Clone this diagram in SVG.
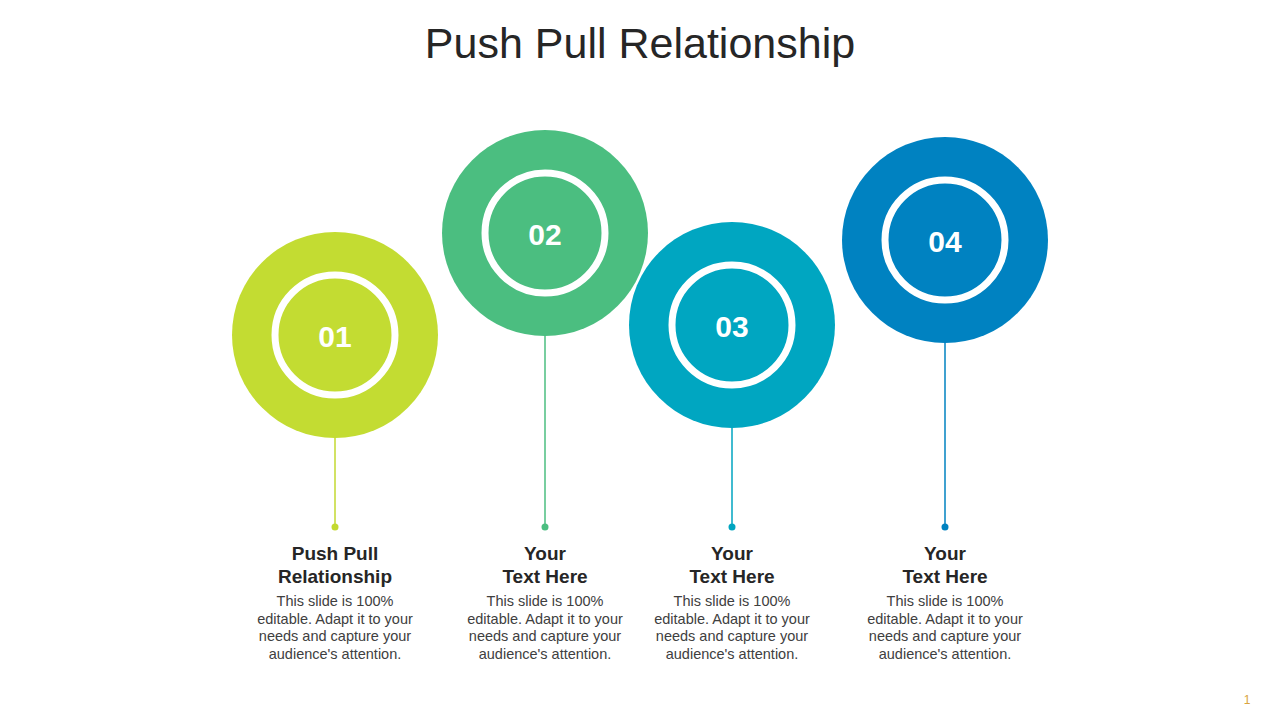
<svg xmlns="http://www.w3.org/2000/svg" width="1280" height="720" viewBox="0 0 1280 720">
<style>
.title{font-family:"Liberation Sans",Arial,sans-serif;font-size:43px;fill:#262626;text-anchor:middle}
.num{font-family:"Liberation Sans",Arial,sans-serif;font-size:30px;font-weight:bold;fill:#fff;text-anchor:middle}
.ring{fill:none;stroke:#fff;stroke-width:7}
.head{font-family:"Liberation Sans",Arial,sans-serif;font-size:19px;font-weight:bold;fill:#262626;text-anchor:middle}
.body{font-family:"Liberation Sans",Arial,sans-serif;font-size:14.5px;fill:#404040;text-anchor:middle}
.pg{font-family:"Liberation Sans",Arial,sans-serif;font-size:12px;fill:#d9a441;text-anchor:middle}
</style>
<rect width="1280" height="720" fill="#fff"/>
<text class="title" x="640" y="58">Push Pull Relationship</text>
<g id="connectors">
<line x1="335" y1="438" x2="335" y2="527" stroke="#c3d930" stroke-width="1.5"/>
<circle cx="335" cy="527" r="3.5" fill="#c3d930"/>
<line x1="545" y1="336" x2="545" y2="527" stroke="#4bbe80" stroke-width="1.5"/>
<circle cx="545" cy="527" r="3.5" fill="#4bbe80"/>
<line x1="732" y1="428" x2="732" y2="527" stroke="#00a5c0" stroke-width="1.5"/>
<circle cx="732" cy="527" r="3.5" fill="#00a5c0"/>
<line x1="945" y1="343" x2="945" y2="527" stroke="#0082c0" stroke-width="1.5"/>
<circle cx="945" cy="527" r="3.5" fill="#0082c0"/>
</g>
<g id="node1">
<circle cx="335" cy="335" r="103" fill="#c3dc32"/>
<circle class="ring" cx="335" cy="335" r="60"/>
<text class="num" x="335" y="347">01</text>
</g>
<g id="node2">
<circle cx="545" cy="233" r="103" fill="#4bbe80"/>
<circle class="ring" cx="545" cy="233" r="60"/>
<text class="num" x="545" y="245">02</text>
</g>
<g id="node3">
<circle cx="732" cy="325" r="103" fill="#00a6c1"/>
<circle class="ring" cx="732" cy="325" r="60"/>
<text class="num" x="732" y="337">03</text>
</g>
<g id="node4">
<circle cx="945" cy="240" r="103" fill="#0082c1"/>
<circle class="ring" cx="945" cy="240" r="60"/>
<text class="num" x="945" y="252">04</text>
</g>
<g id="label1">
<text class="head" x="335" y="560">Push Pull</text>
<text class="head" x="335" y="583">Relationship</text>
<text class="body" x="335" y="606">This slide is 100%</text>
<text class="body" x="335" y="624">editable. Adapt it to your</text>
<text class="body" x="335" y="641">needs and capture your</text>
<text class="body" x="335" y="659">audience's attention.</text>
</g>
<g id="label2">
<text class="head" x="545" y="560">Your</text>
<text class="head" x="545" y="583">Text Here</text>
<text class="body" x="545" y="606">This slide is 100%</text>
<text class="body" x="545" y="624">editable. Adapt it to your</text>
<text class="body" x="545" y="641">needs and capture your</text>
<text class="body" x="545" y="659">audience's attention.</text>
</g>
<g id="label3">
<text class="head" x="732" y="560">Your</text>
<text class="head" x="732" y="583">Text Here</text>
<text class="body" x="732" y="606">This slide is 100%</text>
<text class="body" x="732" y="624">editable. Adapt it to your</text>
<text class="body" x="732" y="641">needs and capture your</text>
<text class="body" x="732" y="659">audience's attention.</text>
</g>
<g id="label4">
<text class="head" x="945" y="560">Your</text>
<text class="head" x="945" y="583">Text Here</text>
<text class="body" x="945" y="606">This slide is 100%</text>
<text class="body" x="945" y="624">editable. Adapt it to your</text>
<text class="body" x="945" y="641">needs and capture your</text>
<text class="body" x="945" y="659">audience's attention.</text>
</g>
<text class="pg" x="1247" y="704">1</text>
</svg>
